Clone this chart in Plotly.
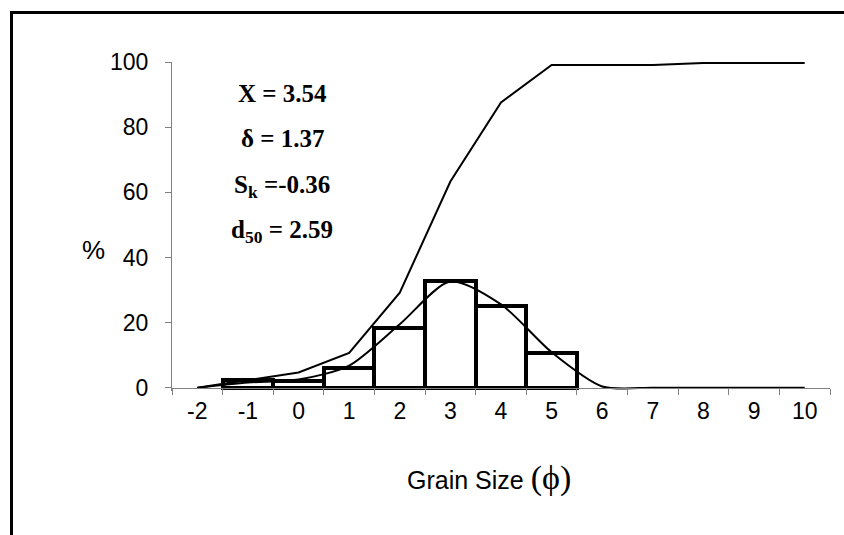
import plotly.graph_objects as go

# ---- data ----
categories = list(range(-2, 11))                     # grain size (phi)
tick_labels = [str(c) for c in categories]
bar_x = [-1, 0, 1, 2, 3, 4, 5]
bar_pct = [2.45, 2.2, 6.0, 18.3, 32.9, 25.2, 10.6]   # weight % per class
cumulative = [0, 2.45, 4.7, 10.7, 29.2, 63.3, 87.6, 99.1, 99.1, 99.1, 99.7, 99.7, 99.7]
normal_fit = [0, 1.6, 2.5, 6.8, 19.5, 32.6, 25.6, 10.9, 0.4, 0, 0, 0, 0]
y_ticks = [0, 20, 40, 60, 80, 100]
stats = ["<b>X = 3.54</b>", "<b>δ = 1.37</b>", "<b>S<sub>k</sub> =-0.36</b>", "<b>d<sub>50</sub> = 2.59</b>"]

W, H = 844, 535
L, R, T = 172, 14, 62
YMIN, YMAX = -1, 100
plot_h = (388 - 62) * (YMAX - YMIN) / 100.0
B = H - T - plot_h
plot_w = W - L - R

def px(x):
    return (x - L) / plot_w

def py(y):
    return (T + plot_h - y) / plot_h

SANS = "Liberation Sans"
SERIF = "Liberation Serif"
GREY = "#808080"

fig = go.Figure()
fig.add_trace(go.Bar(x=bar_x, y=bar_pct, width=1.0,
                     marker=dict(color="white", line=dict(color="black", width=4)),
                     showlegend=False, hoverinfo="skip"))
fig.add_trace(go.Scatter(x=categories, y=cumulative, mode="lines",
                         line=dict(color="black", width=2), showlegend=False))
fig.add_trace(go.Scatter(x=categories, y=normal_fit, mode="lines",
                         line=dict(color="black", width=2, shape="spline", smoothing=0.75),
                         showlegend=False))

fig.update_layout(
    width=W, height=H,
    margin=dict(l=L, r=R, t=T, b=B, pad=0),
    paper_bgcolor="white", plot_bgcolor="white",
    bargap=0,
    font=dict(family=SANS, size=23, color="black"),
    xaxis=dict(range=[-2.5, 10.5], tickmode="array", tickvals=categories, ticktext=tick_labels,
               ticks="", showgrid=False, zeroline=False, showline=True, linecolor=GREY, linewidth=1,
               anchor="free", position=(0 - YMIN) / (YMAX - YMIN),
               ticklabelstandoff=3,
               tickfont=dict(family=SANS, size=23, color="black"),
               minor=dict(tickmode="array", tickvals=[c - 0.5 for c in categories] + [10.5],
                          ticks="outside", ticklen=6, tickcolor=GREY, tickwidth=1, showgrid=False)),
    yaxis=dict(range=[YMIN, YMAX], tickmode="array", tickvals=y_ticks,
               ticks="outside", ticklen=6, tickcolor=GREY, tickwidth=1,
               showgrid=False, zeroline=False, showline=True, linecolor=GREY, linewidth=1,
               ticklabelstandoff=12,
               tickfont=dict(family=SANS, size=23, color="black")),
)

for i, s in enumerate(stats):
    yc = [93.5, 139, 186.5, 232][i]
    fig.add_annotation(x=px(282), y=py(yc), xref="paper", yref="paper", text=s, showarrow=False,
                       xanchor="center", yanchor="middle",
                       font=dict(family=SERIF, size=25, color="black"))

fig.add_annotation(x=px(93), y=py(250), xref="paper", yref="paper", text="%", showarrow=False,
                   xanchor="center", yanchor="middle", font=dict(family=SANS, size=26, color="black"))
fig.add_annotation(x=px(489), y=py(478), xref="paper", yref="paper",
                   text="Grain Size <span style='font-family:Liberation Serif;font-size:34px'>(ϕ)</span>",
                   showarrow=False, xanchor="center", yanchor="middle",
                   font=dict(family=SANS, size=25, color="black"))

# outer frame (partly outside the visible page)
fig.add_shape(type="rect", xref="paper", yref="paper",
              x0=px(11.5), x1=px(W + 20), y0=py(H + 20), y1=py(12.5),
              line=dict(color="black", width=3), fillcolor="rgba(0,0,0,0)", layer="above")

fig.write_html("out.html")
